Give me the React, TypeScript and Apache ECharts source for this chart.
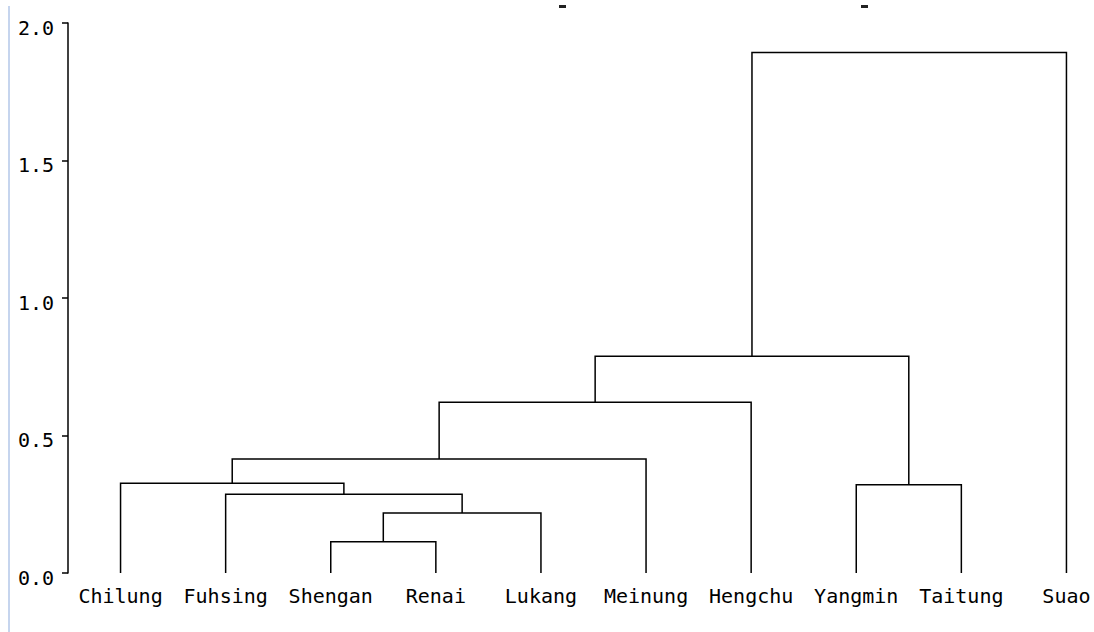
import React, { useEffect, useRef } from "react";
import * as echarts from "echarts";

// Leaves in dendrogram order
const leaves = [
  "Chilung",
  "Fuhsing",
  "Shengan",
  "Renai",
  "Lukang",
  "Meinung",
  "Hengchu",
  "Yangmin",
  "Taitung",
  "Suao",
];

// Linkage: each merge joins two nodes (leaf index or earlier merge id = leaves.length + k)
const mergeLeft = [2, 10, 1, 0, 13, 14, 7, 15, 17];
const mergeRight = [3, 4, 11, 12, 5, 6, 8, 16, 9];
const mergeHeight = [0.114, 0.218, 0.286, 0.326, 0.415, 0.621, 0.321, 0.788, 1.893];

const yTicks = [0, 0.5, 1.0, 1.5, 2.0];

const FONT = "'DejaVu Sans Mono', 'Liberation Mono', monospace";

// Build the U-shaped links: [xLeft, hLeft, xRight, hRight, hMerge]
function buildLinks(): number[][] {
  const pos: number[] = leaves.map((_, i) => i);
  const height: number[] = leaves.map(() => 0);
  const links: number[][] = [];
  for (let k = 0; k < mergeLeft.length; k++) {
    const a = mergeLeft[k];
    const b = mergeRight[k];
    const h = mergeHeight[k];
    links.push([pos[a], height[a], pos[b], height[b], h]);
    pos.push((pos[a] + pos[b]) / 2);
    height.push(h);
  }
  return links;
}

export default function App() {
  const ref = useRef<HTMLDivElement>(null);

  useEffect(() => {
    if (!ref.current) return;
    const chart = echarts.init(ref.current, undefined, { renderer: "svg" });
    const links = buildLinks();

    chart.setOption({
      animation: false,
      backgroundColor: "#ffffff",
      grid: { left: 68, right: 0, top: 23, bottom: 59, containLabel: false },
      xAxis: [
        {
          type: "category",
          data: leaves,
          boundaryGap: true,
          axisLine: { show: false },
          axisTick: { show: false },
          splitLine: { show: false },
          axisLabel: {
            interval: 0,
            margin: 13,
            color: "#000",
            fontFamily: FONT,
            fontSize: 20,
          },
        },
        {
          type: "value",
          min: -0.5,
          max: leaves.length - 0.5,
          show: false,
        },
      ],
      yAxis: {
        type: "value",
        min: 0,
        max: 2,
        interval: 0.5,
        axisLine: { show: true, onZero: false, lineStyle: { color: "#000", width: 1.5 } },
        axisTick: { show: true, length: 6, lineStyle: { color: "#000", width: 1.5 } },
        splitLine: { show: false },
        axisLabel: {
          margin: 14,
          color: "#000",
          fontFamily: FONT,
          fontSize: 20,
          // labels sit a little below their ticks
          formatter: (v: number) => (yTicks.includes(v) ? `{v|${v.toFixed(1)}}` : ""),
          rich: {
            v: {
              color: "#000",
              fontFamily: FONT,
              fontSize: 20,
              padding: [9, 0, 0, 0],
            },
          },
        },
      },
      graphic: [
        { type: "rect", shape: { x: 8, y: 6, width: 2, height: 626 }, style: { fill: "#c6d5ee" } },
        { type: "rect", shape: { x: 559, y: 5, width: 7, height: 3 }, style: { fill: "#222" } },
        { type: "rect", shape: { x: 861, y: 5, width: 7, height: 3 }, style: { fill: "#222" } },
      ],
      series: [
        {
          type: "custom",
          xAxisIndex: 1,
          yAxisIndex: 0,
          clip: false,
          data: links,
          encode: { x: [0, 2], y: [1, 3, 4] },
          renderItem: (params: any, api: any) => {
            const p1 = api.coord([api.value(0), api.value(1)]);
            const p2 = api.coord([api.value(0), api.value(4)]);
            const p3 = api.coord([api.value(2), api.value(4)]);
            const p4 = api.coord([api.value(2), api.value(3)]);
            return {
              type: "polyline",
              shape: { points: [p1, p2, p3, p4] },
              style: { stroke: "#000", lineWidth: 1.5, fill: "none" },
            };
          },
        },
      ],
    });

    return () => chart.dispose();
  }, []);

  // The plot band runs past the right edge; the outer box clips it to the page
  return (
    <div
      style={{
        position: "absolute",
        left: 0,
        top: 0,
        width: 1094,
        height: 632,
        overflow: "hidden",
      }}
    >
      <div ref={ref} style={{ width: 1119, height: 632 }} />
    </div>
  );
}
